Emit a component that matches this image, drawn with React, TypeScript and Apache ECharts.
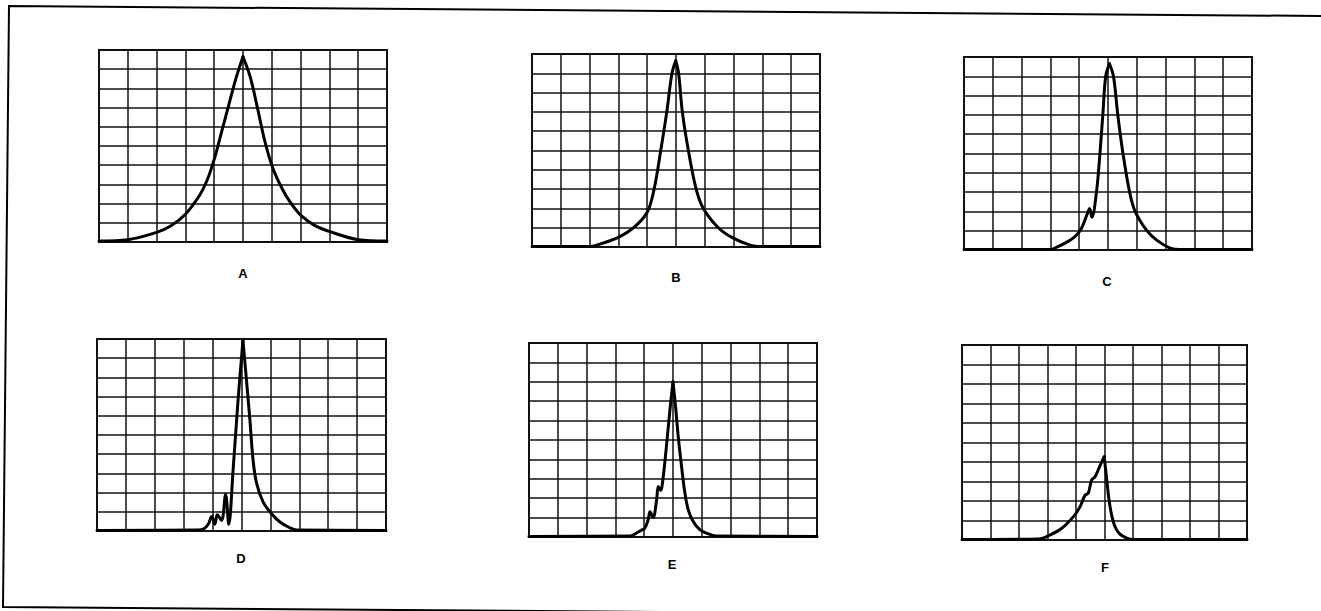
import React, { useEffect, useRef } from "react";
import * as echarts from "echarts";

// Panel captions
const panelNames = ["A", "B", "C", "D", "E", "F"];

// Response curves: x positions (graticule divisions) and heights
const xA = [0, 1, 2, 2.5, 3, 3.5, 3.75, 4, 4.25, 4.5, 4.75, 5, 5.25, 5.5, 5.75, 6, 6.25, 6.5, 6.75, 7, 7.5, 8, 9, 10];
const yA = [0.05, 0.12, 0.5, 0.85, 1.45, 2.45, 3.2, 4.3, 5.7, 7.1, 8.5, 9.65, 8.6, 7.0, 5.3, 4.0, 3.1, 2.4, 1.85, 1.4, 0.85, 0.55, 0.12, 0.05];

const xB = [0, 2.0, 2.25, 3.0, 3.53, 4.0, 4.24, 4.47, 4.68, 4.86, 4.99, 5.09, 5.22, 5.43, 5.7, 5.95, 6.47, 6.94, 7.57, 8.0, 10];
const yB = [0.03, 0.03, 0.1, 0.5, 1, 1.8, 3, 5, 7, 9, 9.65, 9, 7, 5, 3, 2, 1, 0.5, 0.1, 0.03, 0.03];

const xC = [0, 3.0, 3.16, 3.68, 4.03, 4.3, 4.36, 4.44, 4.6, 4.72, 4.82, 4.92, 5.05, 5.19, 5.34, 5.52, 5.75, 5.94, 6.35, 6.7, 7.16, 7.5, 10];
const yC = [0.03, 0.03, 0.1, 0.5, 1, 1.95, 2.15, 1.7, 3, 5, 7, 9, 9.65, 9, 7, 5, 3, 2, 1, 0.5, 0.1, 0.03, 0.03];

const xD = [0, 3.5, 3.7, 3.85, 3.97, 4.08, 4.16, 4.31, 4.45, 4.56, 4.71, 4.88, 5.05, 5.14, 5.29, 5.4, 5.52, 5.75, 6.04, 6.33, 6.67, 6.9, 10];
const yD = [0.03, 0.05, 0.12, 0.35, 0.75, 0.35, 0.85, 0.55, 1.9, 0.35, 3.2, 6.8, 9.93, 8.4, 5.8, 3.7, 2.5, 1.5, 0.9, 0.47, 0.17, 0.05, 0.03];

const xE = [0, 3.5, 3.73, 3.9, 4.02, 4.14, 4.2, 4.31, 4.43, 4.49, 4.57, 4.66, 4.77, 4.89, 5.0, 5.09, 5.18, 5.3, 5.41, 5.53, 5.7, 5.93, 6.16, 6.5, 10];
const yE = [0.03, 0.05, 0.2, 0.35, 0.45, 0.9, 1.3, 1.0, 1.9, 2.6, 2.4, 3.1, 4.65, 6.5, 8.0, 6.7, 5.2, 3.6, 2.3, 1.4, 0.8, 0.38, 0.2, 0.05, 0.03];

const xF = [0, 2.7, 3.09, 3.5, 3.91, 4.14, 4.32, 4.43, 4.55, 4.67, 4.78, 4.9, 4.99, 5.08, 5.16, 5.25, 5.37, 5.54, 5.78, 6.0, 10];
const yF = [0.03, 0.05, 0.26, 0.6, 1.2, 1.7, 2.3, 2.4, 3.08, 3.25, 3.6, 4.0, 4.27, 3.08, 2.05, 1.28, 0.68, 0.3, 0.1, 0.03, 0.03];

const curvesX = [xA, xB, xC, xD, xE, xF];
const curvesY = [yA, yB, yC, yD, yE, yF];

// Graticule placement for each panel (pixels)
const panelBoxes = [
  { left: 99, top: 50, width: 288, height: 192 },
  { left: 532, top: 54, width: 288, height: 193 },
  { left: 964, top: 57, width: 288, height: 193 },
  { left: 97, top: 339, width: 289, height: 192 },
  { left: 529, top: 343, width: 288, height: 194 },
  { left: 962, top: 345, width: 285, height: 195 },
];
const captionPos = [
  [243, 273],
  [676, 277],
  [1107, 281],
  [241, 558],
  [672, 564],
  [1105, 567],
];

export default function App() {
  const ref = useRef<HTMLDivElement>(null);

  useEffect(() => {
    document.body.style.margin = "0";
    if (!ref.current) return;
    const chart = echarts.init(ref.current, null, { renderer: "svg" });

    const ink = "#111";
    const grid = panelBoxes.map((b) => ({
      ...b,
      show: true,
      borderColor: ink,
      borderWidth: 2,
      backgroundColor: "transparent",
    }));
    const axisCommon = {
      type: "value" as const,
      min: 0,
      max: 10,
      interval: 1,
      axisLabel: { show: false },
      axisTick: { show: false },
      axisLine: { show: true, lineStyle: { color: ink, width: 2 } },
      splitLine: { show: true, lineStyle: { color: ink, width: 1.5 } },
    };
    const xAxis = panelBoxes.map((_, i) => ({ ...axisCommon, gridIndex: i }));
    const yAxis = panelBoxes.map((_, i) => ({ ...axisCommon, gridIndex: i }));

    // Each trace is drawn as a rising and a falling flank so the peak stays sharp
    const series: any[] = [];
    curvesX.forEach((xs, i) => {
      const ys = curvesY[i];
      const pts = xs.map((x, k) => [x, ys[k]]);
      let peak = 0;
      ys.forEach((v, k) => {
        if (v > ys[peak]) peak = k;
      });
      [pts.slice(0, peak + 1), pts.slice(peak)].forEach((part) => {
        series.push({
          type: "line",
          xAxisIndex: i,
          yAxisIndex: i,
          data: part,
          showSymbol: false,
          smooth: 0.35,
          lineStyle: { color: "#000", width: 3, join: "round", cap: "round" },
          z: 5,
        });
      });
    });

    const captions = panelNames.map((name, i) => ({
      type: "text" as const,
      x: captionPos[i][0],
      y: captionPos[i][1],
      style: {
        text: name,
        font: "bold 13px 'Liberation Sans', Arial, sans-serif",
        fill: "#000",
        textAlign: "center",
        textVerticalAlign: "middle",
      },
    }));

    chart.setOption({
      animation: false,
      backgroundColor: "#fff",
      grid,
      xAxis,
      yAxis,
      series,
      graphic: [
        {
          type: "polyline",
          shape: { points: [[1321, 16], [9, 6], [3, 607], [1321, 617]] },
          style: { stroke: "#000", lineWidth: 2, fill: "none" },
        },
        ...captions,
      ],
    });

    return () => chart.dispose();
  }, []);

  return <div ref={ref} style={{ width: 1321, height: 611 }} />;
}
